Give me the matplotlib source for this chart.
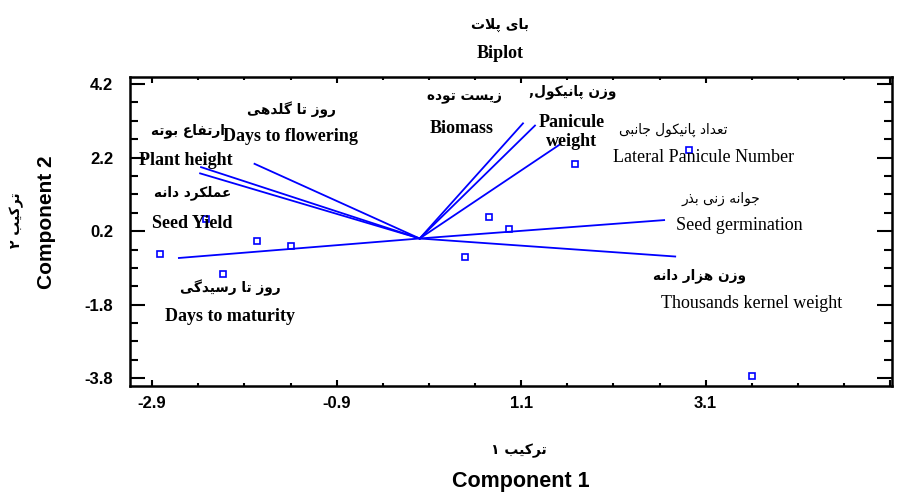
import matplotlib
matplotlib.use("Agg")
import matplotlib.pyplot as plt
from matplotlib.ticker import FixedLocator
import numpy as np

# variable vectors (component 1, component 2)
var_en = ["Plant height", "Seed Yield", "Days to flowering", "Days to maturity",
          "Biomass", "Panicule\nweight", "Lateral Panicule Number",
          "Seed germination", "Thousands kernel weight"]
var_fa = ["ارتفاع بوته", "عملکرد دانه", "روز تا گلدهی", "روز تا رسیدگی",
          "زیست توده", "وزن پانیکول,", "تعداد پانیکول جانبی",
          "جوانه زنی بذر", "وزن هزار دانه"]
var_c1 = [-2.37, -2.38, -1.79, -2.61, 1.12, 1.25, 1.51, 2.65, 2.77]
var_c2 = [1.94, 1.77, 2.03, -0.53, 3.13, 3.07, 2.54, 0.50, -0.49]

# observation scores
obs_c1 = [-2.82, -2.32, -1.76, -1.40, -2.13, 0.49, 0.75, 0.97, 1.68, 2.92, 3.60]
obs_c2 = [-0.43, 0.53, -0.07, -0.20, -0.97, -0.50, 0.59, 0.25, 2.02, 2.41, -3.73]

x_ticks = [-2.9, -0.9, 1.1, 3.1, 5.1]
x_tick_labels = ["-2.9", "-0.9", "1.1", "3.1", ""]
y_ticks = [-3.8, -1.8, 0.2, 2.2, 4.2]
y_tick_labels = ["-3.8", "-1.8", "0.2", "2.2", "4.2"]

# label placement: (en x, en y, en bold, fa x, fa y, fa bold)
label_pos = [
    (-2.54, 2.13, True, -2.51, 2.92, True),
    (-2.47, 0.42, True, -2.46, 1.24, True),
    (-1.40, 2.76, True, -1.39, 3.49, True),
    (-2.06, -2.13, True, -2.05, -1.34, True),
    (0.46, 3.00, True, 0.48, 3.85, True),
    (1.65, 2.90, True, 1.66, 3.98, True),
    (3.08, 2.19, False, 2.75, 2.95, False),
    (3.47, 0.34, False, 3.26, 1.07, False),
    (3.60, -1.78, False, 3.03, -1.02, True),
]

BLUE = "#0000ff"

# matplotlib has no arabic shaping, so do it by hand with presentation forms
AR_FORMS = {
    "ا": ("\ufe8d", "\ufe8e"),
    "آ": ("\ufe81", "\ufe82"),
    "ب": ("\ufe8f", "\ufe90", "\ufe91", "\ufe92"),
    "پ": ("\ufb56", "\ufb57", "\ufb58", "\ufb59"),
    "ت": ("\ufe95", "\ufe96", "\ufe97", "\ufe98"),
    "ج": ("\ufe9d", "\ufe9e", "\ufe9f", "\ufea0"),
    "د": ("\ufea9", "\ufeaa"),
    "ذ": ("\ufeab", "\ufeac"),
    "ر": ("\ufead", "\ufeae"),
    "ز": ("\ufeaf", "\ufeb0"),
    "س": ("\ufeb1", "\ufeb2", "\ufeb3", "\ufeb4"),
    "ع": ("\ufec9", "\ufeca", "\ufecb", "\ufecc"),
    "ف": ("\ufed1", "\ufed2", "\ufed3", "\ufed4"),
    "ک": ("\ufb8e", "\ufb8f", "\ufb90", "\ufb91"),
    "گ": ("\ufb92", "\ufb93", "\ufb94", "\ufb95"),
    "ل": ("\ufedd", "\ufede", "\ufedf", "\ufee0"),
    "م": ("\ufee1", "\ufee2", "\ufee3", "\ufee4"),
    "ن": ("\ufee5", "\ufee6", "\ufee7", "\ufee8"),
    "ه": ("\ufee9", "\ufeea", "\ufeeb", "\ufeec"),
    "و": ("\ufeed", "\ufeee"),
    "ی": ("\ufbfc", "\ufbfd", "\ufbfe", "\ufbff"),
    "لا": ("\ufefb", "\ufefc"),
}


def shape_fa(s):
    chars = []
    i = 0
    while i < len(s):
        if s[i] == "ل" and i + 1 < len(s) and s[i + 1] == "ا":
            chars.append("لا")
            i += 2
        else:
            chars.append(s[i])
            i += 1
    out = []
    for i, c in enumerate(chars):
        forms = AR_FORMS.get(c)
        if forms is None:
            out.append(c)
            continue
        prev = AR_FORMS.get(chars[i - 1]) if i > 0 else None
        nxt = AR_FORMS.get(chars[i + 1]) if i + 1 < len(chars) else None
        join_prev = prev is not None and len(prev) == 4
        join_next = len(forms) == 4 and nxt is not None
        if join_prev and join_next:
            out.append(forms[3])
        elif join_prev:
            out.append(forms[1])
        elif join_next:
            out.append(forms[2])
        else:
            out.append(forms[0])
    return "".join(reversed(out))


plt.rcParams["font.family"] = ["Liberation Sans", "DejaVu Sans"]
FA_FONT = ["DejaVu Sans"]
SERIF = ["Liberation Serif", "DejaVu Serif"]

fig = plt.figure(figsize=(9.04, 4.93), dpi=100)
ax = fig.add_axes([130 / 904, 1 - 386 / 493, 762 / 904, 309 / 493])

for c1, c2 in zip(var_c1, var_c2):
    ax.plot([0, c1], [0, c2], color=BLUE, lw=1.3)
ax.plot(obs_c1, obs_c2, "s", mfc="none", mec=BLUE, ms=4.5, mew=1.2)

for en, fa, (ex, ey, eb, fx, fy, fb) in zip(var_en, var_fa, label_pos):
    ax.text(ex, ey, en, family=SERIF, fontsize=13,
            fontweight="bold" if eb else "normal",
            ha="center", va="center", linespacing=1.2)
    ax.text(fx, fy, shape_fa(fa), family=FA_FONT, fontsize=9.8,
            fontweight="bold" if fb else "normal", ha="center", va="center")

ax.set_xlim(-3.14, 5.12)
ax.set_ylim(-4.01, 4.39)
ax.xaxis.set_major_locator(FixedLocator(x_ticks))
ax.set_xticklabels(x_tick_labels)
ax.yaxis.set_major_locator(FixedLocator(y_ticks))
ax.set_yticklabels(y_tick_labels)
ax.xaxis.set_minor_locator(FixedLocator(np.arange(-2.9, 5.2, 0.5)))
ax.yaxis.set_minor_locator(FixedLocator(np.arange(-3.8, 4.3, 0.5)))

ax.tick_params(axis="both", which="both", direction="in", top=True, right=True,
               width=1.5, labelsize=12, colors="black")
ax.tick_params(axis="x", which="major", length=4.5, pad=7)
ax.tick_params(axis="x", which="minor", length=2.2)
ax.tick_params(axis="y", which="major", length=10.5, pad=12)
ax.tick_params(axis="y", which="minor", length=5.5)
for lab in ax.get_xticklabels() + ax.get_yticklabels():
    lab.set_fontweight("bold")
for sp in ax.spines.values():
    sp.set_linewidth(1.8)

# titles and axis labels
fig.text(500 / 904, 1 - 25 / 493, shape_fa("بای پلات"), family=FA_FONT,
         fontsize=10, fontweight="bold", ha="center", va="center")
fig.text(500 / 904, 1 - 53 / 493, "Biplot", family=SERIF, fontsize=13,
         fontweight="bold", ha="center", va="center")
fig.text(519 / 904, 1 - 451 / 493, shape_fa("ترکیب ۱"), family=FA_FONT,
         fontsize=10, fontweight="bold", ha="center", va="center")
fig.text(521 / 904, 1 - 482 / 493, "Component 1", fontsize=15.5,
         fontweight="bold", ha="center", va="center")
fig.text(17 / 904, 1 - 220 / 493, shape_fa("ترکیب ۲"), family=FA_FONT,
         fontsize=10, fontweight="bold", ha="center", va="center", rotation=90)
fig.text(47 / 904, 1 - 222 / 493, "Component 2", fontsize=15,
         fontweight="bold", ha="center", va="center", rotation=90)

fig.savefig("out.png", dpi=100)
